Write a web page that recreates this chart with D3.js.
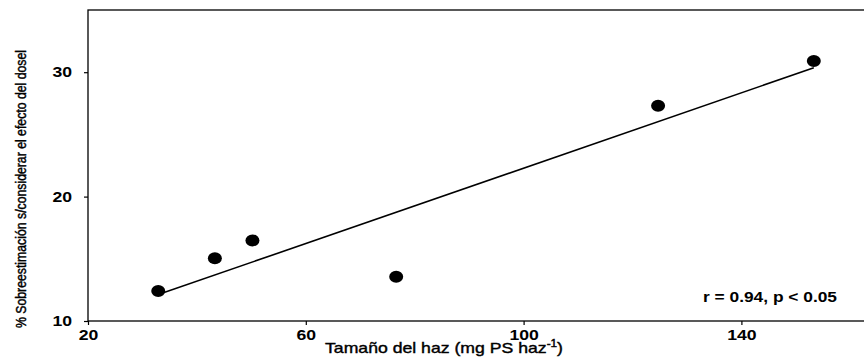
<!DOCTYPE html>
<html>
<head>
<meta charset="utf-8">
<script src="https://cdn.jsdelivr.net/npm/d3@7/dist/d3.min.js"></script>
<style>
  html, body { margin: 0; padding: 0; background: #fff; }
  svg { display: block; }
  text { font-family: "Liberation Sans", Arial, Helvetica, sans-serif; fill: #000; }
</style>
</head>
<body>
<svg id="chart" width="864" height="358"></svg>
<script>
// Bundle size (mg PS haz-1) vs. overestimation (%) when ignoring the canopy effect
const bundleSize = [32.9, 43.3, 50.2, 76.6, 124.7, 153.3];
const overestimate = [12.41, 15.04, 16.48, 13.56, 27.3, 30.9];
const xTicks = [20, 60, 100, 140];
const yTicks = [10, 20, 30];
const statsLabel = "r = 0.94, p < 0.05";

const svg = d3.select("#chart");
const plotLeft = 88, plotTop = 10, plotBottom = 321;

const x = d3.scaleLinear().domain([20, 160]).range([plotLeft, plotLeft + 140 * 5.445]);
const y = d3.scaleLinear().domain([10, 35]).range([plotBottom, plotTop]);

// Plot frame (right side runs past the edge of the canvas)
svg.append("rect")
  .attr("x", plotLeft).attr("y", plotTop)
  .attr("width", 900 - plotLeft).attr("height", plotBottom - plotTop)
  .attr("fill", "none").attr("stroke", "#000").attr("stroke-width", 1.3);

// Axes
const xAxis = svg.append("g").attr("transform", `translate(0,${plotBottom})`)
  .call(d3.axisBottom(x).tickValues(xTicks).tickSize(4).tickPadding(5).tickFormat(d3.format("d")));
const yAxis = svg.append("g").attr("transform", `translate(${plotLeft},0)`)
  .call(d3.axisLeft(y).tickValues(yTicks).tickSize(4).tickPadding(12).tickFormat(d3.format("d")));
[xAxis, yAxis].forEach(g => {
  g.select(".domain").remove();
  g.selectAll(".tick line").attr("stroke", "#000").attr("stroke-width", 1.2);
  g.selectAll(".tick text")
    .style("font-family", "'Liberation Sans', Arial, sans-serif")
    .style("font-size", "14px").style("font-weight", "bold").attr("fill", "#000")
    .attr("textLength", d => String(d).length * 9.8)
    .attr("lengthAdjust", "spacingAndGlyphs");
});

// Least-squares regression line over the observed range
const mx = d3.mean(bundleSize), my = d3.mean(overestimate);
const sxy = d3.sum(bundleSize, (v, i) => (v - mx) * (overestimate[i] - my));
const sxx = d3.sum(bundleSize, v => (v - mx) ** 2);
const slope = sxy / sxx, intercept = my - slope * mx;
const [x0, x1] = d3.extent(bundleSize);
svg.append("line")
  .attr("x1", x(x0)).attr("y1", y(intercept + slope * x0))
  .attr("x2", x(x1)).attr("y2", y(intercept + slope * x1))
  .attr("stroke", "#000").attr("stroke-width", 1.6);

// Observations
svg.append("g").selectAll("ellipse")
  .data(bundleSize.map((v, i) => [v, overestimate[i]]))
  .join("ellipse")
  .attr("cx", d => x(d[0])).attr("cy", d => y(d[1]))
  .attr("rx", 7).attr("ry", 6).attr("fill", "#000");

// Correlation annotation
svg.append("text")
  .attr("x", 703).attr("y", 302)
  .attr("textLength", 134).attr("lengthAdjust", "spacingAndGlyphs")
  .style("font-size", "14px").style("font-weight", "bold")
  .text(statsLabel);

// Axis titles
const xt = svg.append("text")
  .attr("x", 325).attr("y", 353)
  .attr("textLength", 238).attr("lengthAdjust", "spacingAndGlyphs")
  .style("font-size", "15px").style("font-weight", "normal")
  .attr("stroke", "#000").attr("stroke-width", 0.4);
xt.append("tspan").text("Tamaño del haz (mg PS haz");
xt.append("tspan").attr("dy", -6).style("font-size", "10px").text("-1");
xt.append("tspan").attr("dy", 6).text(")");

svg.append("text")
  .attr("transform", "translate(26,189) rotate(-90)")
  .attr("text-anchor", "middle")
  .attr("textLength", 278).attr("lengthAdjust", "spacingAndGlyphs")
  .style("font-size", "14px").style("font-weight", "normal")
  .attr("stroke", "#000").attr("stroke-width", 0.45)
  .text("% Sobreestimación s/considerar el efecto del dosel");
</script>
</body>
</html>
